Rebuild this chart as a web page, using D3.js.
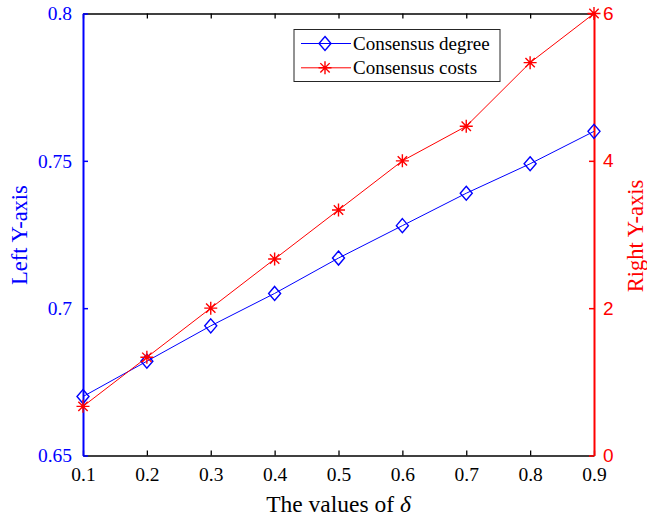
<!DOCTYPE html>
<html>
<head>
<meta charset="utf-8">
<script src="https://cdn.jsdelivr.net/npm/d3@7"></script>
<style>
  body { margin: 0; background: #fff; }
  svg { display: block; }
</style>
</head>
<body>
<svg width="647" height="520"></svg>
<script>
// chart values
const deltas = [0.1, 0.2, 0.3, 0.4, 0.5, 0.6, 0.7, 0.8, 0.9];
const degree = [0.670, 0.682, 0.694, 0.705, 0.717, 0.728, 0.739, 0.749, 0.760];
const costs = [0.667, 1.333, 2.0, 2.667, 3.333, 4.0, 4.47, 5.333, 6.0];
const xTicks = [0.1, 0.2, 0.3, 0.4, 0.5, 0.6, 0.7, 0.8, 0.9];
const leftTicks = [0.65, 0.7, 0.75, 0.8];
const rightTicks = [0, 2, 4, 6];
const seriesNames = ["Consensus degree", "Consensus costs"];

const width = 647, height = 520;
const margin = { top: 13.5, right: 53, bottom: 64.5, left: 83 };
const iw = width - margin.left - margin.right;
const ih = height - margin.top - margin.bottom;

const blue = "#0000ff", red = "#ff0000";
const serif = "'Liberation Serif', 'Times New Roman', serif";
const sans = "'Liberation Sans', Arial, sans-serif";

const svg = d3.select("svg");
const g = svg.append("g").attr("transform", `translate(${margin.left},${margin.top})`);

const x = d3.scaleLinear().domain([0.1, 0.9]).range([0, iw]);
const yL = d3.scaleLinear().domain([0.65, 0.8]).range([ih, 0]);
const yR = d3.scaleLinear().domain([0, 6]).range([ih, 0]);

// axes (MATLAB style, ticks inward)
const tickLen = 5;
const bottomAxis = g.append("g").attr("transform", `translate(0,${ih})`)
  .call(d3.axisBottom(x).tickValues(xTicks).tickSizeInner(-tickLen).tickSizeOuter(0).tickPadding(12).tickFormat(d3.format(".1f")));
const topAxis = g.append("g")
  .call(d3.axisTop(x).tickValues(xTicks).tickSizeInner(-tickLen).tickSizeOuter(0).tickFormat(""));
[bottomAxis, topAxis].forEach(a => {
  a.select(".domain").attr("stroke", "#000").attr("stroke-width", 1.6);
  a.selectAll(".tick line").attr("stroke", "#000").attr("stroke-width", 1.3);
});
bottomAxis.selectAll("text").attr("font-family", serif).attr("font-size", 19.5).attr("fill", "#000");

const leftAxis = g.append("g")
  .call(d3.axisLeft(yL).tickValues(leftTicks).tickSizeInner(-tickLen).tickSizeOuter(0).tickPadding(11).tickFormat(d => String(d)));
leftAxis.select(".domain").attr("stroke", blue).attr("stroke-width", 2);
leftAxis.selectAll(".tick line").attr("stroke", blue).attr("stroke-width", 1.5);
leftAxis.selectAll("text").attr("font-family", serif).attr("font-size", 19.5).attr("fill", blue);

const rightAxis = g.append("g").attr("transform", `translate(${iw},0)`)
  .call(d3.axisRight(yR).tickValues(rightTicks).tickSizeInner(-tickLen).tickSizeOuter(0).tickPadding(9).tickFormat(d => String(d)));
rightAxis.select(".domain").attr("stroke", red).attr("stroke-width", 2);
rightAxis.selectAll(".tick line").attr("stroke", red).attr("stroke-width", 1.5);
rightAxis.selectAll("text").attr("font-family", sans).attr("font-size", 19).attr("fill", red);

// markers
function diamond(sel, cx, cy) {
  sel.append("path")
    .attr("d", `M${cx},${cy - 7}L${cx + 6},${cy}L${cx},${cy + 7}L${cx - 6},${cy}Z`)
    .attr("fill", "none").attr("stroke", blue).attr("stroke-width", 1.4);
}
function star(sel, cx, cy) {
  const r = 6.5, d = r * 0.72;
  sel.append("path")
    .attr("d", `M${cx - r},${cy}H${cx + r}M${cx},${cy - r}V${cy + r}` +
      `M${cx - d},${cy - d}L${cx + d},${cy + d}M${cx - d},${cy + d}L${cx + d},${cy - d}`)
    .attr("fill", "none").attr("stroke", red).attr("stroke-width", 1.4);
}

// degree series (left axis)
const lineL = d3.line().x((d, i) => x(deltas[i])).y(d => yL(d));
g.append("path").datum(degree).attr("d", lineL)
  .attr("fill", "none").attr("stroke", blue).attr("stroke-width", 1);
const mL = g.append("g");
degree.forEach((d, i) => diamond(mL, x(deltas[i]), yL(d)));

// cost series (right axis)
const lineR = d3.line().x((d, i) => x(deltas[i])).y(d => yR(d));
g.append("path").datum(costs).attr("d", lineR)
  .attr("fill", "none").attr("stroke", red).attr("stroke-width", 1);
const mR = g.append("g");
costs.forEach((d, i) => star(mR, x(deltas[i]), yR(d)));

// axis labels
svg.append("text")
  .attr("transform", `translate(${27},${235}) rotate(-90)`)
  .attr("text-anchor", "middle")
  .attr("font-family", serif).attr("font-size", 22.5).attr("fill", blue)
  .text("Left Y-axis");
svg.append("text")
  .attr("transform", `translate(${643},${236}) rotate(-90)`)
  .attr("text-anchor", "middle")
  .attr("font-family", serif).attr("font-size", 22.5).attr("fill", red)
  .text("Right Y-axis");
const xl = svg.append("text")
  .attr("x", margin.left + iw / 2).attr("y", 512)
  .attr("text-anchor", "middle")
  .attr("font-family", serif).attr("font-size", 23.5).attr("fill", "#000");
xl.append("tspan").text("The values of ");
xl.append("tspan").attr("font-style", "italic").text("δ");

// legend
const legend = svg.append("g").attr("transform", "translate(294,29.5)");
legend.append("rect").attr("width", 206).attr("height", 52)
  .attr("fill", "#fff").attr("stroke", "#262626").attr("stroke-width", 1);
const rows = [
  { name: seriesNames[0], color: blue, mark: diamond },
  { name: seriesNames[1], color: red, mark: star }
];
rows.forEach((r, i) => {
  const cy = 14 + i * 24.3;
  legend.append("line").attr("x1", 7).attr("x2", 57).attr("y1", cy).attr("y2", cy)
    .attr("stroke", r.color).attr("stroke-width", 1);
  r.mark(legend, 31, cy);
  legend.append("text").attr("x", 59).attr("y", cy + 6.5)
    .attr("font-family", serif).attr("font-size", 19).attr("fill", "#000")
    .text(r.name);
});
</script>
</body>
</html>
